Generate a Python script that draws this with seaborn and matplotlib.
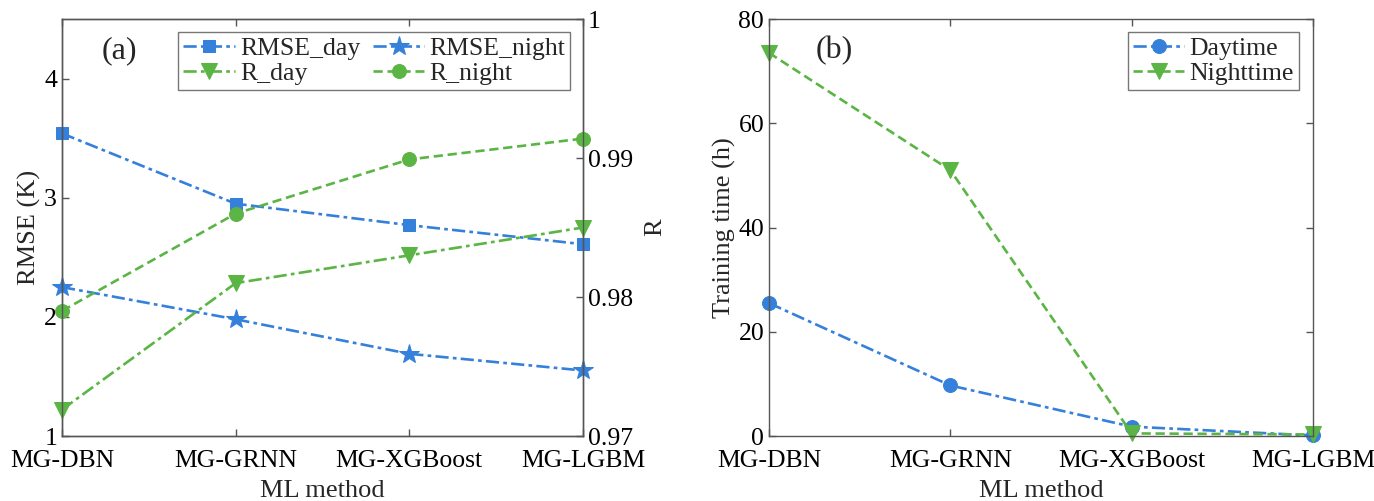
import matplotlib
matplotlib.use("Agg")
import matplotlib.pyplot as plt
import seaborn as sns
import pandas as pd

methods = ["MG-DBN", "MG-GRNN", "MG-XGBoost", "MG-LGBM"]
rmse_day = [3.54, 2.95, 2.77, 2.61]
rmse_night = [2.25, 1.98, 1.69, 1.55]
r_day = [0.9719, 0.9810, 0.9830, 0.9850]
r_night = [0.9790, 0.9860, 0.9899, 0.9914]
time_day = [25.5, 9.7, 1.8, 0.1]
time_night = [73.5, 51.0, 0.5, 0.3]

BLUE = "#3580DA"
GREEN = "#5BB544"
SPINE = "#555555"

sns.set_theme(style="ticks")
plt.rcParams["font.family"] = ["Liberation Serif", "DejaVu Serif"]
plt.rcParams["mathtext.fontset"] = "stix"
plt.rcParams["xtick.direction"] = "in"
plt.rcParams["ytick.direction"] = "in"

idx = list(range(len(methods)))
df = pd.DataFrame({"x": idx, "rmse_day": rmse_day, "rmse_night": rmse_night,
                   "r_day": r_day, "r_night": r_night,
                   "time_day": time_day, "time_night": time_night})

fig = plt.figure(figsize=(13.74, 5.01), dpi=100)
ax1 = fig.add_axes([0.0451, 0.1297, 0.3792, 0.8323])
ax2 = fig.add_axes([0.5597, 0.1297, 0.3959, 0.8323])

LW = 1.9
FS_TICK = 18.5
FS_LAB = 19
FS_LEG = 18.5

DASHDOT = (0, (5, 1.6, 1.4, 1.6))
DASHED = (0, (3.5, 1.8))


def style_axes(ax):
    for sp in ax.spines.values():
        sp.set_color(SPINE)
        sp.set_linewidth(1.0)
        sp.set_visible(True)
    ax.tick_params(colors=SPINE, labelcolor="black", labelsize=FS_TICK,
                   length=5, width=1.0)


# Panel (a): RMSE on the left axis, R on the right axis
sns.lineplot(data=df, x="x", y="rmse_day", ax=ax1, color=BLUE, lw=LW,
             linestyle=DASHDOT, marker="s", markersize=9, markeredgecolor=BLUE,
             label="RMSE_day", legend=False)
sns.lineplot(data=df, x="x", y="rmse_night", ax=ax1, color=BLUE, lw=LW,
             linestyle=DASHDOT, marker="*", markersize=15, markeredgecolor=BLUE,
             label="RMSE_night", legend=False)
ax1.set_xlim(0, 3)
ax1.set_ylim(1, 4.5)
ax1.set_yticks([1, 2, 3, 4])
ax1.set_xticks(idx)
ax1.set_xticklabels(methods)
ax1.set_xlabel("ML method", fontsize=FS_LAB, labelpad=6)
ax1.set_ylabel("RMSE (K)", fontsize=FS_LAB, labelpad=2)
ax1.tick_params(axis="x", top=True, pad=10)
style_axes(ax1)

ax1r = ax1.twinx()
sns.lineplot(data=df, x="x", y="r_day", ax=ax1r, color=GREEN, lw=LW,
             linestyle=DASHDOT, marker="v", markersize=11, markeredgecolor=GREEN,
             label="R_day", legend=False)
sns.lineplot(data=df, x="x", y="r_night", ax=ax1r, color=GREEN, lw=LW,
             linestyle=DASHED, marker="o", markersize=10, markeredgecolor=GREEN,
             label="R_night", legend=False)
ax1r.set_ylim(0.97, 1.0)
ax1r.set_yticks([0.97, 0.98, 0.99, 1.0])
ax1r.set_yticklabels(["0.97", "0.98", "0.99", "1"])
ax1r.set_ylabel("R", fontsize=FS_LAB, labelpad=8)
ax1r.set_xlim(0, 3)
style_axes(ax1r)

h1, l1 = ax1.get_legend_handles_labels()
h2, l2 = ax1r.get_legend_handles_labels()
handles = [h1[0], h2[0], h1[1], h2[1]]
labels = [l1[0], l2[0], l1[1], l2[1]]
leg = ax1r.legend(handles, labels, ncol=2, loc="upper right",
                  bbox_to_anchor=(0.976, 0.97), fontsize=FS_LEG,
                  frameon=True, fancybox=False, edgecolor=SPINE,
                  handlelength=2.0, handletextpad=0.2, columnspacing=0.5,
                  borderpad=0.2, labelspacing=0.1, borderaxespad=0.0)
leg.get_frame().set_linewidth(1.0)
ax1.text(0.11, 0.925, "(a)", transform=ax1.transAxes, fontsize=23,
         ha="center", va="center")

# Panel (b): training time
sns.lineplot(data=df, x="x", y="time_day", ax=ax2, color=BLUE, lw=LW,
             linestyle=DASHDOT, marker="o", markersize=10, markeredgecolor=BLUE,
             label="Daytime", legend=False)
sns.lineplot(data=df, x="x", y="time_night", ax=ax2, color=GREEN, lw=LW,
             linestyle=DASHED, marker="v", markersize=11, markeredgecolor=GREEN,
             label="Nighttime", legend=False)
ax2.set_xlim(0, 3)
ax2.set_ylim(0, 80)
ax2.set_yticks([0, 20, 40, 60, 80])
ax2.set_xticks(idx)
ax2.set_xticklabels(methods)
ax2.set_xlabel("ML method", fontsize=FS_LAB, labelpad=6)
ax2.set_ylabel("Training time (h)", fontsize=FS_LAB, labelpad=2)
ax2.tick_params(axis="x", top=True, pad=10)
ax2.tick_params(axis="y", right=True)
style_axes(ax2)
leg2 = ax2.legend(loc="upper right", bbox_to_anchor=(0.974, 0.97),
                  fontsize=FS_LEG, frameon=True, fancybox=False,
                  edgecolor=SPINE, handlelength=2.0, handletextpad=0.2,
                  borderpad=0.2, labelspacing=0.1, borderaxespad=0.0)
leg2.get_frame().set_linewidth(1.0)
ax2.text(0.12, 0.925, "(b)", transform=ax2.transAxes, fontsize=23,
         ha="center", va="center")

for a in (ax1, ax1r, ax2):
    for ln in a.get_lines():
        ln.set_clip_on(False)

fig.savefig("out.png", dpi=100)
